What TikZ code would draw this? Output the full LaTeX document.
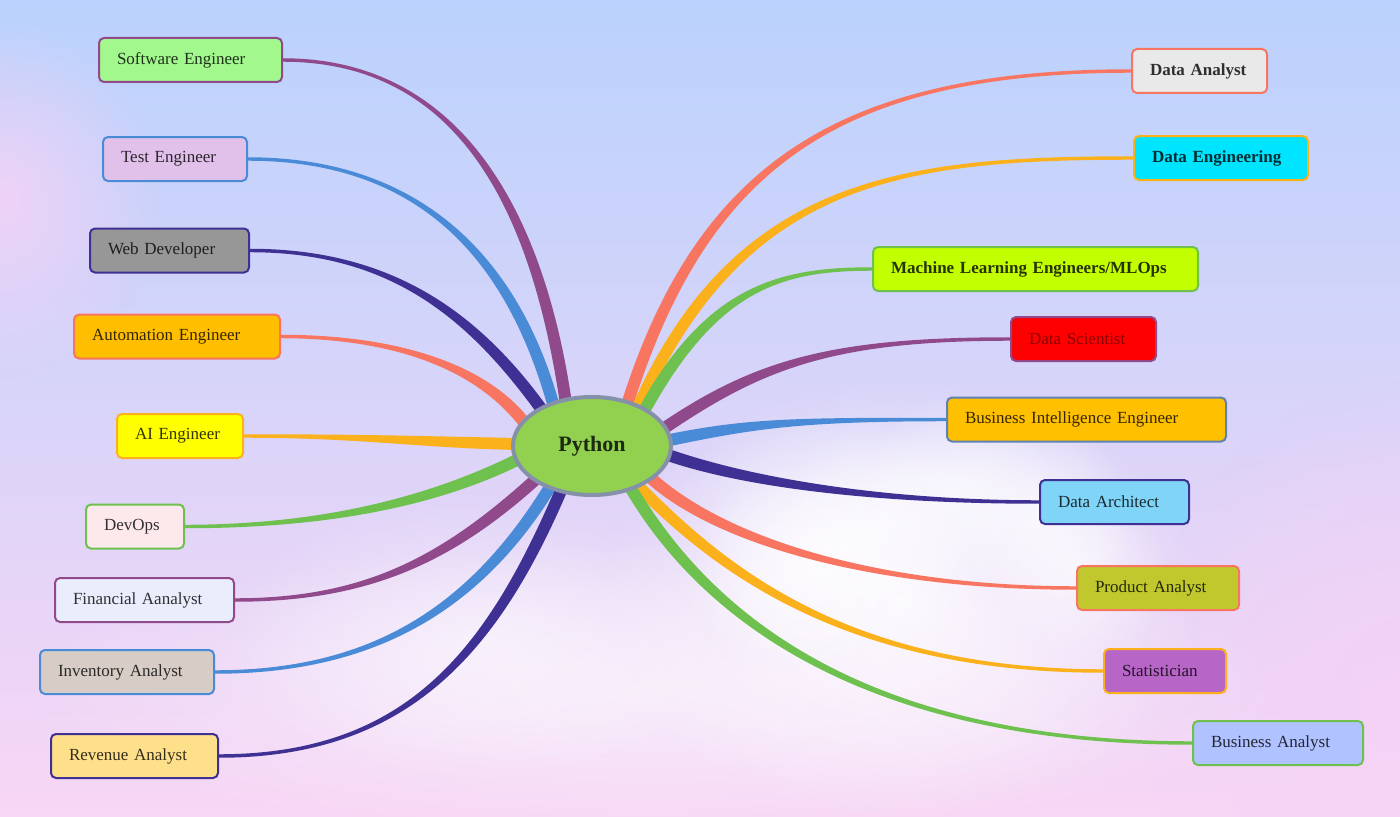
\documentclass[tikz,border=0pt]{standalone}
\usepackage{fontspec}
\setmainfont{Liberation Serif}
\usetikzlibrary{calc,shapes.geometric,fadings}
\pgfdeclarelayer{bg}
\pgfdeclarelayer{lines}
\pgfsetlayers{bg,lines,main}

\definecolor{cPurple}{HTML}{904A8C}
\definecolor{cBlue}{HTML}{4A8BD8}
\definecolor{cIndigo}{HTML}{3F3193}
\definecolor{cSalmon}{HTML}{F87561}
\definecolor{cOrange}{HTML}{FBB11B}
\definecolor{cGreen}{HTML}{6EC14E}
\definecolor{bBI}{HTML}{5F82B0}
\definecolor{cPy}{HTML}{92D050}
\definecolor{cRim}{HTML}{8491A8}
\definecolor{fSE}{HTML}{A2F78D}
\definecolor{fTE}{HTML}{E1C1EA}
\definecolor{fWD}{HTML}{979797}
\definecolor{fAE}{HTML}{FFBF00}
\definecolor{fAI}{HTML}{FFFF00}
\definecolor{fDV}{HTML}{FDE9EC}
\definecolor{fFA}{HTML}{EAEEFC}
\definecolor{fIA}{HTML}{D8CCC7}
\definecolor{fRA}{HTML}{FFE08A}
\definecolor{fDA}{HTML}{E9E9E9}
\definecolor{fDE}{HTML}{00E5FF}
\definecolor{fML}{HTML}{C2FF00}
\definecolor{fDS}{HTML}{FF0000}
\definecolor{fBI}{HTML}{FFC000}
\definecolor{fDAR}{HTML}{80D4F8}
\definecolor{fPA}{HTML}{C0C82E}
\definecolor{fST}{HTML}{B865C8}
\definecolor{fBA}{HTML}{B0C2FF}
\definecolor{skyTop}{HTML}{BAD2FD}
\definecolor{skyMid}{HTML}{D3DBFA}
\definecolor{skyBot}{HTML}{F8D6F5}
\definecolor{pinkA}{HTML}{F4D2F6}

\tikzfading[name=cloudfade, inner color=transparent!0, outer color=transparent!100]

% tapered branch: #1 start offset from Python centre, #2 first control offset from start,
% #3 end anchor, #4 second control offset from end, #5 colour
\newcommand\branchtaper[5]{%
  \coordinate (tS) at ($(py.center)+#1$);
  \coordinate (tA) at ($(tS)+#2$);
  \coordinate (tE) at (#3);
  \coordinate (tB) at ($(tE)+#4$);
  \coordinate (tSL) at ($(tS)!4.5pt!90:(tA)$);
  \coordinate (tSR) at ($(tS)!4.5pt!-90:(tA)$);
  \coordinate (tAL) at ($(tA)+(tSL)-(tS)$);
  \coordinate (tAR) at ($(tA)+(tSR)-(tS)$);
  \coordinate (tEL) at ($(tE)!1.3pt!-90:(tB)$);
  \coordinate (tER) at ($(tE)!1.3pt!90:(tB)$);
  \coordinate (tBL) at ($(tB)+(tEL)-(tE)$);
  \coordinate (tBR) at ($(tB)+(tER)-(tE)$);
  \fill[#5] (tSL) .. controls (tAL) and (tBL) .. (tEL) -- (tER)
            .. controls (tBR) and (tAR) .. (tSR) -- cycle;
}

\tikzset{
  box/.style={draw, rounded corners=3.75pt, line width=1.5pt, minimum height=33pt,
    inner xsep=13.5pt, inner ysep=0pt, align=left, anchor=west,
    font=\fontsize{12.75}{15}\selectfont, text=black, text opacity=0.8},
  bbox/.style={box, font=\fontsize{12.75}{15}\selectfont\bfseries},
  cloud/.style={fill=white, path fading=cloudfade},
}

\begin{document}
\begin{tikzpicture}[x=0.75pt,y=-0.75pt]
\useasboundingbox (0,0) rectangle (1400,817);

\begin{pgfonlayer}{bg}
  \shade[top color=skyTop, middle color=skyMid, bottom color=skyBot] (0,0) rectangle (1400,817);
  \clip (0,0) rectangle (1400,817);
  \fill[pinkA, path fading=cloudfade, opacity=0.9] (0,200) ellipse [x radius=160, y radius=180];
  \fill[pinkA, path fading=cloudfade, opacity=0.9] (1400,700) ellipse [x radius=260, y radius=320];
  \fill[cloud, opacity=0.55] (650,690) ellipse [x radius=640, y radius=150];
  \fill[cloud, opacity=0.5] (480,640) ellipse [x radius=260, y radius=140];
  \fill[cloud, opacity=0.85] (900,600) ellipse [x radius=300, y radius=220];
  \fill[cloud, opacity=0.6] (820,540) ellipse [x radius=160, y radius=130];
  % cumulus puffs
  \fill[cloud, opacity=0.7] (960,490) circle [radius=95];
  \fill[cloud, opacity=0.7] (1040,515) circle [radius=95];
  \fill[cloud, opacity=0.6] (880,520) circle [radius=100];
  \fill[cloud, opacity=0.6] (1080,570) circle [radius=90];
  \fill[cloud, opacity=0.6] (800,570) circle [radius=110];
\end{pgfonlayer}

% centre
\node[ellipse, draw=cRim, line width=3pt, fill=cPy, minimum width=118.5pt,
  minimum height=73.5pt, inner sep=0pt, font=\fontsize{16.5}{20}\selectfont\bfseries,
  text=black, text opacity=0.8] (py) at (592,446) {Python};

% left nodes
\node[box, fill=fSE, draw=cPurple, text width=110.25pt] (se) at (98,60) {Software Engineer};
\node[box, fill=fTE, draw=cBlue, text width=81pt] (te) at (102,159) {Test Engineer};
\node[box, fill=fWD, draw=cIndigo, text width=92.25pt] (wd) at (89,250.5) {Web Developer};
\node[box, fill=fAE, draw=cSalmon, text width=127.5pt] (ae) at (73,336.5) {Automation Engineer};
\node[box, fill=fAI, draw=cOrange, text width=67.5pt] (ai) at (116,436) {AI Engineer};
\node[box, fill=fDV, draw=cGreen, text width=46.5pt] (dv) at (85,526.5) {DevOps};
\node[box, fill=fFA, draw=cPurple, text width=107.25pt] (fa) at (54,600) {Financial Aanalyst};
\node[box, fill=fIA, draw=cBlue, text width=103.5pt] (ia) at (39,672) {Inventory Analyst};
\node[box, fill=fRA, draw=cIndigo, text width=98.25pt] (ra) at (50,756) {Revenue Analyst};

% right nodes
\node[bbox, fill=fDA, draw=cSalmon, text width=74.25pt] (da) at (1131,71) {Data Analyst};
\node[bbox, fill=fDE, draw=cOrange, text width=103.5pt] (de) at (1133,158) {Data Engineering};
\node[bbox, fill=fML, draw=cGreen, text width=216.75pt] (ml) at (872,269) {Machine Learning Engineers/MLOps};
\node[box, fill=fDS, draw=cPurple, text width=81.75pt, text=red!55!black, text opacity=1] (ds) at (1010,339) {Data Scientist};
\node[box, fill=fBI, draw=bBI, text width=182.25pt] (bi) at (946,419.5) {Business Intelligence Engineer};
\node[box, fill=fDAR, draw=cIndigo, text width=84.75pt] (dar) at (1039,502) {Data Architect};
\node[box, fill=fPA, draw=cSalmon, text width=94.5pt] (pa) at (1076,588) {Product Analyst};
\node[box, fill=fST, draw=cOrange, text width=64.5pt] (st) at (1103,671) {Statistician};
\node[box, fill=fBA, draw=cGreen, text width=100.5pt] (ba) at (1192,743) {Business Analyst};

\begin{pgfonlayer}{lines}
  \branchtaper{(-26.4,-45)}{(-30,-201.8)}{se.east}{(170,0)}{cPurple}
  \branchtaper{(-38.9,-42.2)}{(-41.9,-148.1)}{te.east}{(170,0)}{cBlue}
  \branchtaper{(-50.3,-36.5)}{(-69.4,-95.5)}{wd.east}{(140,0)}{cIndigo}
  \branchtaper{(-67.1,-22.6)}{(-41.3,-54)}{ae.east}{(120,0)}{cSalmon}
  \branchtaper{(-73,-2)}{(-103,-2)}{ai.east}{(120,0)}{cOrange}
  \branchtaper{(-71.4,12.2)}{(-93,46.5)}{dv.east}{(130,0)}{cGreen}
  \branchtaper{(-54,31.3)}{(-91.8,83.5)}{fa.east}{(130,0)}{cPurple}
  \branchtaper{(-39.9,37.6)}{(-79.8,131.7)}{ia.east}{(150,0)}{cBlue}
  \branchtaper{(-30.4,43.3)}{(-68.6,159.9)}{ra.east}{(190,0)}{cIndigo}
  \branchtaper{(34.2,-38.7)}{(73.8,-234.7)}{da.west}{(-300,0)}{cSalmon}
  \branchtaper{(44.4,-35.2)}{(102.4,-232.4)}{de.west}{(-230,0)}{cOrange}
  \branchtaper{(51.3,-33.7)}{(69,-126.4)}{ml.west}{(-90,0)}{cGreen}
  \branchtaper{(69,-15.6)}{(95.8,-65.4)}{ds.west}{(-180,0)}{cPurple}
  \branchtaper{(72.1,-4.8)}{(84.2,-17.5)}{bi.west}{(-150,0)}{cBlue}
  \branchtaper{(70.4,7)}{(80.8,29.2)}{dar.west}{(-160,0)}{cIndigo}
  \branchtaper{(56.6,29.9)}{(70.1,65.3)}{pa.west}{(-200,0)}{cSalmon}
  \branchtaper{(42.4,36.3)}{(82.6,83.8)}{st.west}{(-260,0)}{cOrange}
  \branchtaper{(37,39.1)}{(79,136.8)}{ba.west}{(-320,0)}{cGreen}
\end{pgfonlayer}
\end{tikzpicture}
\end{document}
